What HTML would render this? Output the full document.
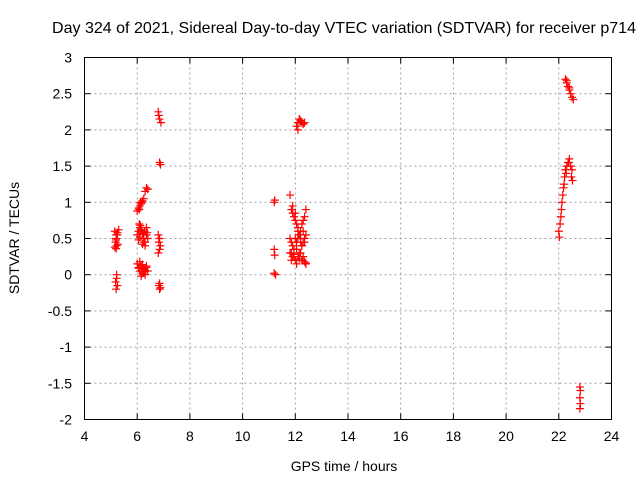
<!DOCTYPE html>
<html><head><meta charset="utf-8">
<style>
body{margin:0;background:#fff;}
svg{display:block;font-family:"Liberation Sans",sans-serif;}
</style></head>
<body>
<svg id="chart" width="640" height="480">
<text x="344" y="33" font-size="16" text-anchor="middle" textLength="584" lengthAdjust="spacingAndGlyphs">Day 324 of 2021, Sidereal Day-to-day VTEC variation (SDTVAR) for receiver p714</text>
<text x="344" y="471" font-size="14" text-anchor="middle">GPS time / hours</text>
<text transform="translate(19,238) rotate(-90)" font-size="14" text-anchor="middle">SDTVAR / TECUs</text>
<g id="grid"></g><g id="ticks"></g><g id="pts"></g>
<rect x="84.5" y="57.5" width="527" height="362" fill="none" stroke="#000"/>
</svg>
<script>
const xTicks=[4,6,8,10,12,14,16,18,20,22,24];
const yTicks=[-2,-1.5,-1,-0.5,0,0.5,1,1.5,2,2.5,3];
const yTickLabels=["-2","-1.5","-1","-0.5","0","0.5","1","1.5","2","2.5","3"];
const hours=[5.15,5.2,5.25,5.2,5.3,5.18,5.22,5.27,5.2,5.15,5.25,5.2,5.22,5.18,5.25,5.2,5.22,
6.0,6.05,6.1,6.12,6.15,6.2,6.25,6.3,6.35,6.4,6.08,6.18,
6.0,6.05,6.1,6.15,6.2,6.25,6.3,6.35,6.4,6.05,6.12,6.2,6.28,6.35,6.1,6.22,6.3,6.15,6.25,6.38,6.08,
6.0,6.05,6.1,6.15,6.2,6.25,6.3,6.35,6.4,6.1,6.2,6.3,6.15,6.25,6.05,6.35,
6.8,6.82,6.85,6.9,6.85,6.88,6.8,6.85,6.82,6.88,6.85,6.8,6.85,6.82,6.88,6.85,
11.2,11.22,11.2,11.22,11.2,11.25,
11.8,11.85,11.9,11.95,12.0,12.05,12.1,12.15,12.2,12.25,12.3,12.35,12.4,11.9,12.0,12.1,12.2,12.3,
11.8,11.85,11.9,11.95,12.0,12.05,12.1,12.15,12.2,12.25,12.3,12.35,12.4,11.85,11.95,12.05,12.15,12.25,12.35,
11.8,11.9,12.0,12.1,12.2,12.3,12.4,11.85,12.05,12.25,12.35,11.95,12.15,12.4,
12.05,12.1,12.15,12.2,12.25,12.3,12.35,12.1,12.2,
22.0,22.02,22.05,22.08,22.1,22.12,22.15,22.18,22.2,22.22,22.25,22.3,22.35,22.4,22.45,22.5,22.28,22.38,22.48,22.52,
22.25,22.3,22.35,22.4,22.45,22.5,22.55,22.3,22.4,
22.8,22.82,22.8,22.82,22.8];
const vtec=[0.6,0.55,0.58,0.5,0.62,0.45,0.4,0.42,0.36,0.38,0.55,0.48,-0.05,-0.1,-0.15,-0.2,0.0,
0.88,0.92,0.95,1.0,0.98,1.02,1.05,1.15,1.2,1.18,0.9,1.0,
0.55,0.6,0.65,0.62,0.58,0.5,0.45,0.55,0.5,0.48,0.68,0.42,0.6,0.65,0.52,0.56,0.4,0.62,0.45,0.58,0.7,
0.15,0.1,0.05,0.12,0.02,0.08,0.0,0.1,0.05,0.18,0.14,0.06,-0.02,0.04,0.09,0.12,
2.25,2.2,2.15,2.1,1.55,1.52,0.55,0.5,0.45,0.4,0.35,0.3,-0.12,-0.15,-0.18,-0.2,
1.0,1.03,0.35,0.27,0.02,0.0,
1.1,0.9,0.85,0.8,0.75,0.7,0.6,0.55,0.6,0.7,0.75,0.8,0.9,0.95,0.85,0.65,0.5,0.6,
0.5,0.45,0.4,0.35,0.5,0.45,0.5,0.55,0.45,0.4,0.45,0.5,0.55,0.3,0.25,0.35,0.3,0.4,0.45,
0.3,0.25,0.2,0.25,0.3,0.25,0.15,0.2,0.15,0.2,0.18,0.28,0.22,0.16,
2.05,2.1,2.15,2.12,2.1,2.08,2.1,2.0,2.13,
0.6,0.52,0.7,0.8,0.9,1.0,1.1,1.2,1.25,1.35,1.45,1.5,1.55,1.6,1.5,1.45,1.4,1.55,1.35,1.3,
2.7,2.65,2.6,2.55,2.5,2.45,2.42,2.68,2.58,
-1.55,-1.6,-1.7,-1.78,-1.85];
const X=v=>84.5+(v-4)*26.35, Y=v=>57.5+(3-v)*72.4;
const NS='http://www.w3.org/2000/svg';
const grid=document.getElementById('grid'),ticks=document.getElementById('ticks'),pts=document.getElementById('pts');
function mk(tag,attrs,parent){const e=document.createElementNS(NS,tag);for(const k in attrs)e.setAttribute(k,attrs[k]);parent.appendChild(e);return e;}
xTicks.forEach((t,i)=>{const x=X(t);
 if(i>0&&i<xTicks.length-1){const g=mk('line',{x1:x,y1:57.5,x2:x,y2:419.5,stroke:'#a0a0a0','stroke-dasharray':'2,3'},grid);
 
 }
 mk('line',{x1:x,y1:419.5,x2:x,y2:413.5,stroke:'#000'},ticks);mk('line',{x1:x,y1:57.5,x2:x,y2:63.5,stroke:'#000'},ticks);
 const l=mk('text',{x:x,y:441,'font-size':14,'text-anchor':'middle'},ticks);l.textContent=t;
 
 });
yTicks.forEach((t,i)=>{const y=Y(t);
 if(i>0&&i<yTicks.length-1){const g=mk('line',{x1:84.5,y1:y,x2:611.5,y2:y,stroke:'#a0a0a0','stroke-dasharray':'2,3'},grid);
 
 }
 mk('line',{x1:84.5,y1:y,x2:90.5,y2:y,stroke:'#000'},ticks);mk('line',{x1:611.5,y1:y,x2:605.5,y2:y,stroke:'#000'},ticks);
 const l=mk('text',{x:72,y:y+5,'font-size':14,'text-anchor':'end'},ticks);l.textContent=yTickLabels[i];
 
 });
hours.forEach((h,i)=>{const x=X(h),y=Y(vtec[i]);
 const p=mk('path',{d:`M${x-4},${y}h8M${x},${y-4}v8`,stroke:'#f00','stroke-width':1.2,fill:'none'},pts);
 
 });
</script>
</body></html>
